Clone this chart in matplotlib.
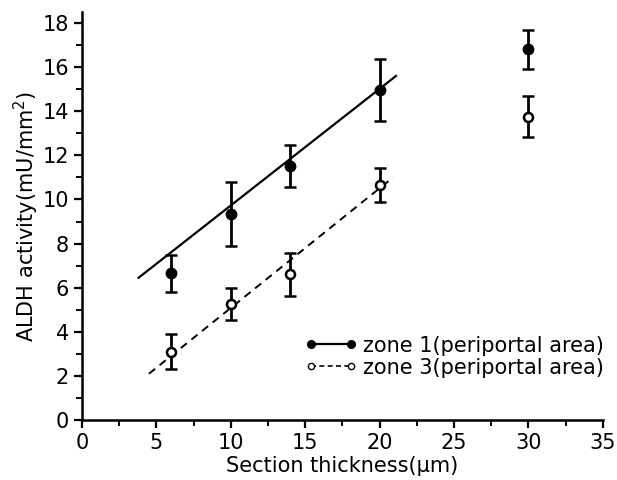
import numpy as np
import matplotlib.pyplot as plt
from matplotlib.ticker import MultipleLocator

# Data
thickness = [6, 10, 14, 20, 30]
zone1_mean = [6.65, 9.35, 11.5, 14.95, 16.8]
zone1_err = [0.85, 1.45, 0.95, 1.4, 0.87]
zone3_mean = [3.1, 5.25, 6.6, 10.65, 13.75]
zone3_err = [0.8, 0.72, 0.98, 0.78, 0.93]

# regression lines (end points)
fit1_x = [3.8, 21.1]
fit1_y = [6.45, 15.6]
fit3_x = [4.5, 20.9]
fit3_y = [2.1, 11.0]

plt.rcParams['font.family'] = ['DejaVu Sans']

fig = plt.figure(figsize=(6.17, 4.8), dpi=100)
ax = fig.add_axes([0.133, 0.125, 0.844, 0.85])

ax.errorbar(thickness, zone1_mean, yerr=zone1_err, fmt='o', color='black',
            markersize=7.5, elinewidth=2, capsize=4.5, capthick=1.8)
ax.errorbar(thickness, zone3_mean, yerr=zone3_err, fmt='o', color='black',
            mfc='white', mew=1.8, markersize=6.5, elinewidth=2, capsize=4.5, capthick=1.8)
ax.plot(fit1_x, fit1_y, '-', color='black', lw=1.6)
ax.plot(fit3_x, fit3_y, '--', color='black', lw=1.4, dashes=(4, 3))

# legend entries
h1, = ax.plot([], [], '-o', color='black', lw=1.6, markersize=5.5)
h3, = ax.plot([], [], '--o', color='black', lw=1.2, markersize=4.5, mfc='white', dashes=(3, 2))
ax.legend([h1, h3], ['zone 1(periportal area)', 'zone 3(periportal area)'],
          loc='upper left', bbox_to_anchor=(0.428, 0.207), frameon=False,
          borderaxespad=0, borderpad=0,
          numpoints=2, handlelength=2.5, handletextpad=0.3, labelspacing=0.1,
          fontsize=15)

ax.set_xlim(0, 35)
ax.set_ylim(0, 18.5)
ax.xaxis.set_major_locator(MultipleLocator(5))
ax.xaxis.set_minor_locator(MultipleLocator(2.5))
ax.yaxis.set_major_locator(MultipleLocator(2))
ax.yaxis.set_minor_locator(MultipleLocator(1))
ax.set_yticks(np.arange(0, 19, 2))

for side in ['top', 'right']:
    ax.spines[side].set_visible(False)
for side in ['left', 'bottom']:
    ax.spines[side].set_linewidth(1.8)

ax.tick_params(which='major', direction='out', length=6, width=1.6, labelsize=15)
ax.tick_params(which='minor', direction='out', length=4, width=1.4)

ax.set_xlabel('Section thickness(μm)', fontsize=15, labelpad=2)
ax.set_ylabel('ALDH activity(mU/mm$^2$)', fontsize=15, labelpad=1)

fig.savefig('out.png', dpi=100)
